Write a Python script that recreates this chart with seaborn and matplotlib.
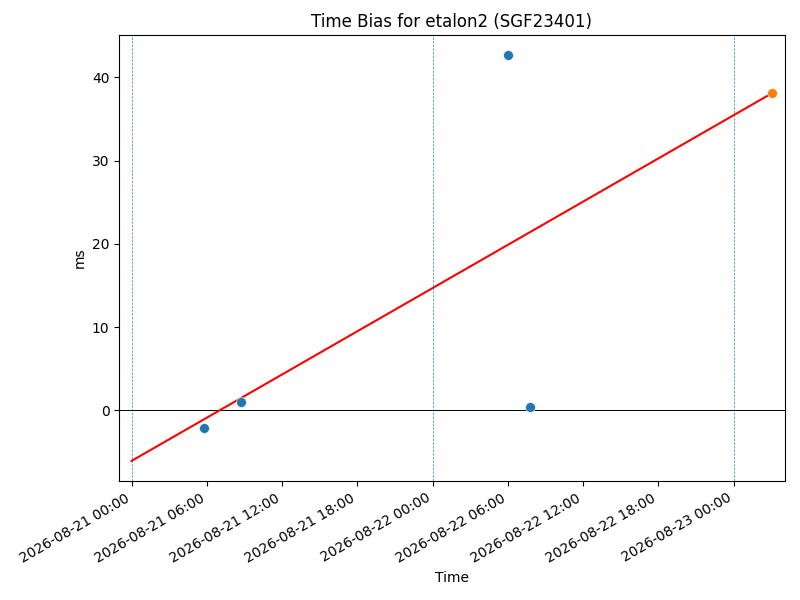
import pandas as pd
import matplotlib
matplotlib.use("Agg")
import matplotlib.dates as mdates
from matplotlib import pyplot as plt
import seaborn as sns

# observed time bias points
obs_times = ["2026-08-21 05:47", "2026-08-21 08:44", "2026-08-22 05:58", "2026-08-22 07:44"]
obs_bias = [-2.17, 1.0, 42.65, 0.36]

# predicted point
pred_times = ["2026-08-23 03:01"]
pred_bias = [38.07]

# fitted trend endpoints
fit_times = ["2026-08-21 00:00", "2026-08-23 03:01"]
fit_bias = [-6.07, 38.07]

day_marks = ["2026-08-21", "2026-08-22", "2026-08-23"]
x_range = ["2026-08-20 23:01", "2026-08-23 04:04"]

obs_df = pd.DataFrame({"time": pd.to_datetime(obs_times), "bias": obs_bias})
pred_df = pd.DataFrame({"time": pd.to_datetime(pred_times), "bias": pred_bias})
fit_df = pd.DataFrame({"time": pd.to_datetime(fit_times), "bias": fit_bias})

fig, ax = plt.subplots(figsize=(8, 6), dpi=100)

for d in day_marks:
    ax.axvline(pd.Timestamp(d), color="tab:blue", linestyle="--", linewidth=0.5, alpha=0.9)
ax.axhline(0, color="black", linewidth=0.7)

sns.lineplot(data=fit_df, x="time", y="bias", color="red", linewidth=1.5, ax=ax)
sns.scatterplot(data=obs_df, x="time", y="bias", color="tab:blue", s=50,
                edgecolor="white", linewidth=0.4, ax=ax, zorder=3)
sns.scatterplot(data=pred_df, x="time", y="bias", color="tab:orange", s=50,
                edgecolor="white", linewidth=0.4, ax=ax, zorder=3)

ax.set_xlim(pd.Timestamp(x_range[0]), pd.Timestamp(x_range[1]))
ax.xaxis.set_major_locator(mdates.HourLocator(byhour=[0, 6, 12, 18]))
ax.xaxis.set_major_formatter(mdates.DateFormatter("%Y-%m-%d %H:%M"))
ax.set_xlabel("Time")
ax.set_ylabel("ms")
ax.set_title("Time Bias for etalon2 (SGF23401)")
fig.autofmt_xdate()
fig.subplots_adjust(left=0.149, right=0.981, top=0.9417, bottom=0.198)
fig.savefig("out.png", dpi=100)
